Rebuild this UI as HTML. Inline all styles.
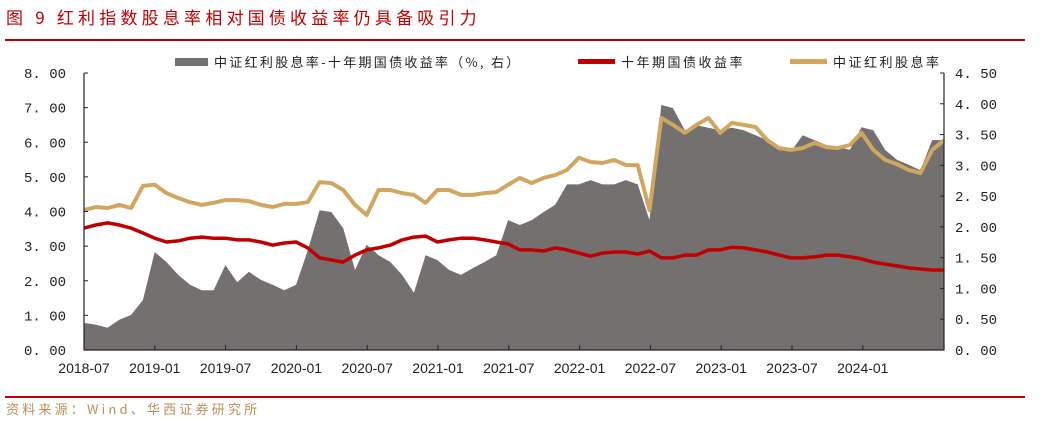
<!DOCTYPE html>
<html><head><meta charset="utf-8"><style>
body{margin:0;background:#fff;width:1053px;height:421px;overflow:hidden;font-family:"Liberation Sans","Noto Sans CJK SC",sans-serif}
</style></head><body>
<svg width="1053" height="421" xmlns="http://www.w3.org/2000/svg" id="svg">
<text x="6" y="24" font-size="17" fill="#c00000" font-family="Noto Sans CJK SC, sans-serif" letter-spacing="4.2">图 9 红利指数股息率相对国债收益率仍具备吸引力</text>
<line x1="5" y1="40" x2="1025" y2="40" stroke="#c00000" stroke-width="2"/>
<line x1="5" y1="397" x2="1025" y2="397" stroke="#c00000" stroke-width="2"/>
<text x="6" y="414" font-size="13" fill="#b8905a" font-family="Noto Sans CJK SC, sans-serif" letter-spacing="3.2">资料来源：Wind、华西证券研究所</text>
<g font-size="13" fill="#222" font-family="Noto Sans CJK SC, sans-serif">
<rect x="175" y="58" width="33" height="8" fill="#757070"/>
<text x="214" y="67" letter-spacing="2.3">中证红利股息率-十年期国债收益率（%, 右）</text>
<rect x="578" y="59" width="37" height="5" fill="#c00000"/>
<text x="621" y="67" letter-spacing="2.5">十年期国债收益率</text>
<rect x="790" y="59" width="37" height="5" fill="#d0a660"/>
<text x="833" y="67" letter-spacing="2.5">中证红利股息率</text>
</g>
<g id="plot"></g>
</svg>
<script>
const xLabels=["2018-07","2019-01","2019-07","2020-01","2020-07","2021-01","2021-07","2022-01","2022-07","2023-01","2023-07","2024-01"];
const leftTicks=["0.00","1.00","2.00","3.00","4.00","5.00","6.00","7.00","8.00"];
const rightTicks=["0.00","0.50","1.00","1.50","2.00","2.50","3.00","3.50","4.00","4.50"];
const dividendYield=[4.04,4.13,4.10,4.19,4.10,4.74,4.77,4.53,4.39,4.27,4.19,4.25,4.33,4.33,4.30,4.19,4.13,4.22,4.22,4.27,4.85,4.82,4.62,4.19,3.90,4.62,4.62,4.53,4.48,4.25,4.62,4.62,4.48,4.48,4.53,4.56,4.77,4.97,4.82,4.97,5.05,5.20,5.55,5.43,5.40,5.49,5.34,5.34,4.04,6.70,6.50,6.27,6.50,6.70,6.27,6.56,6.50,6.44,6.06,5.83,5.78,5.83,5.98,5.86,5.83,5.92,6.27,5.78,5.49,5.37,5.20,5.11,5.78,6.06];
const bondYield=[3.52,3.61,3.67,3.61,3.52,3.38,3.23,3.12,3.15,3.23,3.26,3.23,3.23,3.18,3.18,3.12,3.03,3.09,3.12,2.95,2.66,2.60,2.54,2.74,2.89,2.95,3.03,3.18,3.26,3.29,3.12,3.18,3.23,3.23,3.18,3.12,3.06,2.89,2.89,2.86,2.95,2.89,2.80,2.71,2.80,2.83,2.83,2.77,2.86,2.66,2.66,2.74,2.74,2.89,2.89,2.97,2.95,2.89,2.83,2.74,2.66,2.66,2.69,2.74,2.74,2.69,2.63,2.54,2.48,2.43,2.37,2.34,2.31,2.31];
const spread=[0.44,0.41,0.36,0.49,0.57,0.81,1.59,1.43,1.22,1.06,0.97,0.97,1.38,1.10,1.27,1.14,1.06,0.97,1.06,1.62,2.27,2.24,1.98,1.30,1.71,1.54,1.43,1.22,0.93,1.54,1.46,1.30,1.22,1.33,1.43,1.54,2.11,2.03,2.11,2.24,2.36,2.69,2.69,2.76,2.69,2.69,2.76,2.69,2.11,3.98,3.93,3.57,3.65,3.61,3.57,3.61,3.57,3.49,3.41,3.25,3.22,3.49,3.41,3.33,3.30,3.25,3.62,3.57,3.25,3.09,3.01,2.92,3.41,3.41];
const X0=84,X1=944,Y0=350,Y1=73;
const n=dividendYield.length;
const xm=i=>X0+i*(X1-X0)/(n-1);
const yl=v=>Y0-v/8*(Y0-Y1);
const yr=v=>Y0-v/4.5*(Y0-Y1);
const NS="http://www.w3.org/2000/svg";
const g=document.getElementById('plot');
function mk(t,a){const e=document.createElementNS(NS,t);for(const k in a)e.setAttribute(k,a[k]);g.appendChild(e);return e;}
let d=`M${X0},${Y0}`;spread.forEach((v,i)=>d+=` L${xm(i).toFixed(1)},${yr(v).toFixed(1)}`);d+=` L${X1},${Y0} Z`;
let a=mk('path',{d:d,fill:'#757070'});


function line(arr,col,w,name){let p='';arr.forEach((v,i)=>p+=(i?' L':'M')+xm(i).toFixed(1)+','+yl(v).toFixed(1));
const e=mk('path',{d:p,fill:'none',stroke:col,'stroke-width':w,'stroke-linejoin':'round'});

}
line(dividendYield,'#d0a660',4,'dividend-yield-line');
line(bondYield,'#c00000',3.5,'bond-yield-line');
let ax=mk('path',{d:`M${X0},${Y1} L${X0},${Y0} L${X1},${Y0} L${X1},${Y1}`,fill:'none',stroke:'#222','stroke-width':1.2});


leftTicks.forEach((t,i)=>{const y=yl(i);
mk('line',{x1:X0,x2:X0+4,y1:y,y2:y,stroke:'#222'});
const e=mk('text',{x:66,y:y+5,'text-anchor':'end','font-size':14,fill:'#222','font-family':'Liberation Mono, monospace'});e.textContent=t.replace('.','. ');

});
rightTicks.forEach((t,i)=>{const y=yr(i*0.5);
mk('line',{x1:X1-4,x2:X1,y1:y,y2:y,stroke:'#222'});
const e=mk('text',{x:955,y:y+5,'font-size':14,fill:'#222','font-family':'Liberation Mono, monospace'});e.textContent=t.replace('.','. ');

});
xLabels.forEach((t,i)=>{const x=X0+i*70.8;
mk('line',{x1:x,x2:x,y1:Y0,y2:Y0-5,stroke:'#222'});
const e=mk('text',{x:x,y:373,'text-anchor':'middle','font-size':14,fill:'#222'});e.textContent=t;

});
</script>
</body></html>
